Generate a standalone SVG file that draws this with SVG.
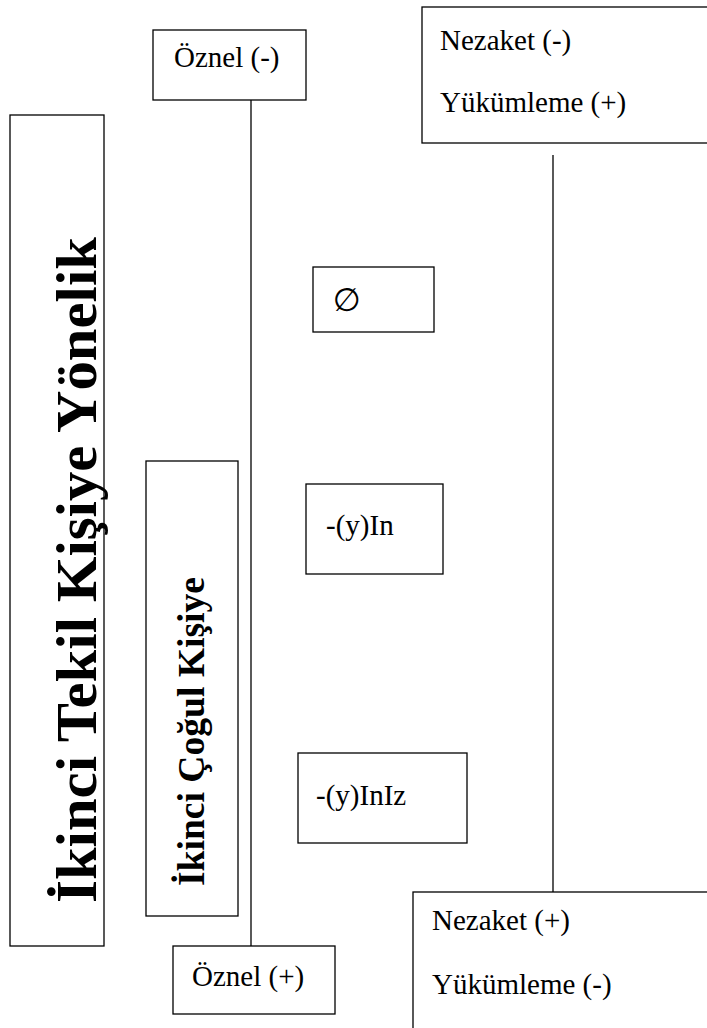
<svg xmlns="http://www.w3.org/2000/svg" width="707" height="1028" viewBox="0 0 707 1028">
  <style>
    .box { fill: #ffffff; stroke: #000000; stroke-width: 1.3; }
    .lbl { font-family: "Liberation Serif", "Times New Roman", serif; font-size: 29px; fill: #000000; }
    .vert { font-family: "Liberation Serif", "Times New Roman", serif; font-weight: bold; fill: #000000; }
    .wire { stroke: #000000; stroke-width: 1.3; fill: none; }
  </style>
  <rect width="707" height="1028" fill="#ffffff"/>

  <!-- connectors -->
  <g id="connectors">
    <line class="wire" x1="251" y1="100" x2="251" y2="946"/>
    <line class="wire" x1="553" y1="155" x2="553" y2="892"/>
  </g>

  <g id="tekil">
    <rect class="box" x="10" y="115" width="94" height="831"/>
    <text class="vert" font-size="58" transform="translate(96,903) rotate(-90)" textLength="666" lengthAdjust="spacingAndGlyphs">İkinci Tekil Kişiye Yönelik</text>
  </g>

  <g id="cogul">
    <rect class="box" x="146" y="461" width="92" height="455"/>
    <text class="vert" font-size="37" transform="translate(204,886) rotate(-90)" textLength="309" lengthAdjust="spacingAndGlyphs">İkinci Çoğul Kişiye</text>
  </g>

  <g id="oznel-eksi">
    <rect class="box" x="153" y="30" width="153" height="70"/>
    <text class="lbl" x="174" y="67">Öznel (-)</text>
  </g>

  <g id="oznel-arti">
    <rect class="box" x="173" y="946" width="162" height="68"/>
    <text class="lbl" x="192" y="986">Öznel (+)</text>
  </g>

  <g id="nezaket-eksi">
    <rect class="box" x="422" y="7" width="290" height="136"/>
    <text class="lbl" x="440" y="50">Nezaket (-)</text>
    <text class="lbl" x="440" y="112">Yükümleme (+)</text>
  </g>

  <g id="nezaket-arti">
    <rect class="box" x="413" y="892" width="300" height="140"/>
    <text class="lbl" x="432" y="930">Nezaket (+)</text>
    <text class="lbl" x="432" y="994">Yükümleme (-)</text>
  </g>

  <g id="sifir">
    <rect class="box" x="313" y="267" width="121" height="65"/>
    <text x="333" y="311" font-family="DejaVu Sans, sans-serif" font-size="32" fill="#000000">∅</text>
  </g>

  <g id="yin">
    <rect class="box" x="306" y="484" width="137" height="90"/>
    <text class="lbl" x="326" y="535">-(y)In</text>
  </g>

  <g id="yiniz">
    <rect class="box" x="298" y="753" width="169" height="90"/>
    <text class="lbl" x="316" y="805">-(y)InIz</text>
  </g>
</svg>
